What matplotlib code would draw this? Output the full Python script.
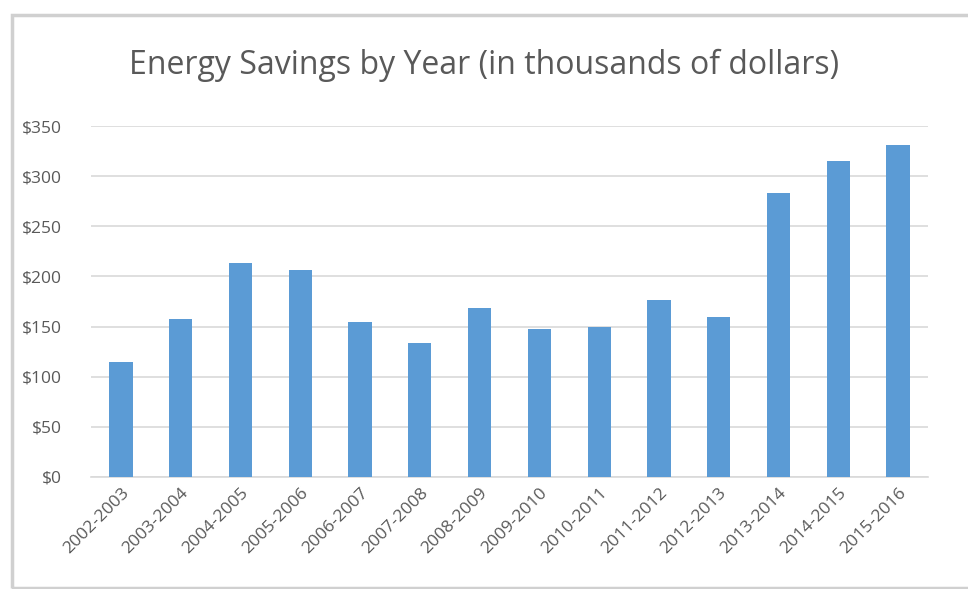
import matplotlib
matplotlib.use('Agg')
import matplotlib.pyplot as plt
from matplotlib.patches import Rectangle

# data (thousands of dollars)
years = ['2002-2003', '2003-2004', '2004-2005', '2005-2006', '2006-2007',
         '2007-2008', '2008-2009', '2009-2010', '2010-2011', '2011-2012',
         '2012-2013', '2013-2014', '2014-2015', '2015-2016']
savings = [115, 158, 213, 206, 155, 134, 169, 148, 150, 176, 160, 283, 315, 331]
yticks = [0, 50, 100, 150, 200, 250, 300, 350]
ylabels = ['$' + str(v) for v in yticks]

W, H = 968, 589
fig = plt.figure(figsize=(W / 100, H / 100), dpi=100)
fig.patch.set_facecolor('white')

# chart frame
fig.patches.append(Rectangle((12 / W, 0.002), 1.2, 1 - 15 / H - 0.002, transform=fig.transFigure,
                             fill=False, edgecolor='#d0d0d0', linewidth=2.5))

ax = fig.add_axes([91 / W, 1 - 477 / H, (928 - 91) / W, (477 - 126) / H])
x = range(len(years))
ax.bar(x, savings, width=0.39, color='#5B9BD5', zorder=3)

ax.set_ylim(0, 350)
ax.set_xlim(-0.5, len(years) - 0.5)
ax.set_yticks(yticks)
ax.set_yticklabels(ylabels)
ax.set_xticks(list(x))
ax.set_xticklabels(years, rotation=45, ha='right', rotation_mode='anchor')
ax.grid(axis='y', color='#d9d9d9', linewidth=1.2, zorder=0)
for s in ['top', 'right', 'left']:
    ax.spines[s].set_visible(False)
ax.spines['bottom'].set_color('#d9d9d9')
ax.spines['bottom'].set_linewidth(1.2)
ax.tick_params(axis='both', length=0, colors='#595959', labelsize=12.5)
ax.tick_params(axis='y', pad=21)
ax.tick_params(axis='x', pad=6)
for t in ax.get_xticklabels() + ax.get_yticklabels():
    t.set_fontfamily('Open Sans')

fig.text(0.5, 1 - 65 / H, 'Energy Savings by Year (in thousands of dollars)',
         ha='center', va='center', fontsize=23, color='#595959', family='Open Sans')

fig.savefig('out.png', dpi=100)
